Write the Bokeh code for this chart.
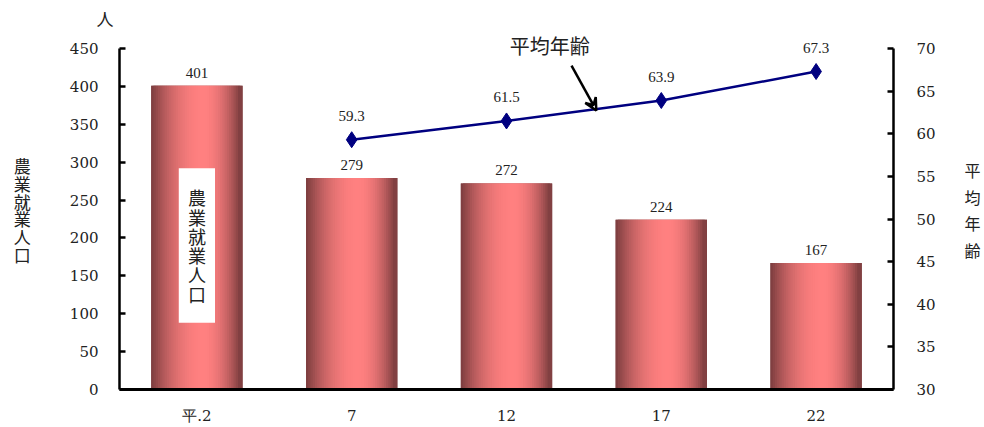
from bokeh.plotting import figure
from bokeh.models import (ColumnDataSource, LinearAxis, Range1d, FixedTicker, Label,
                          LabelSet, Arrow, VeeHead, BoxAnnotation, Title)
from bokeh.embed import file_html
from bokeh.resources import INLINE

# ---- data ----
categories = ["平.2", "7", "12", "17", "22"]
workers = [401, 279, 272, 224, 167]
ages = [None, 59.3, 61.5, 63.9, 67.3]
left_ticks = [0, 50, 100, 150, 200, 250, 300, 350, 400, 450]
right_ticks = [30, 35, 40, 45, 50, 55, 60, 65, 70]

NUM_FONT = "DejaVu Serif"
JP_FONT = "Noto Sans CJK JP"
TXT = "#222222"

W, H = 984, 427
TOP, BOTTOM, LEFT, RIGHT = 30, 38, 119, 91
frame_h = H - TOP - BOTTOM
axis_px = 341  # pixel height of the 0..450 / 30..70 span
left_end = left_ticks[-1] * frame_h / axis_px
right_end = right_ticks[0] + (right_ticks[-1] - right_ticks[0]) * frame_h / axis_px

p = figure(width=W, height=H, x_range=Range1d(-0.5, 4.5), y_range=Range1d(0, left_end),
           output_backend="svg", toolbar_location=None, title=None,
           min_border_left=LEFT, min_border_right=RIGHT, min_border_top=TOP,
           min_border_bottom=BOTTOM)
p.outline_line_color = None
p.xgrid.visible = False
p.ygrid.visible = False

p.extra_y_ranges = {"age": Range1d(right_ticks[0], right_end)}

def style_axis(ax):
    ax.axis_line_color = "black"
    ax.axis_line_width = 2.5
    ax.major_tick_line_color = "black"
    ax.major_tick_line_width = 2.5
    ax.major_tick_in = 6
    ax.major_tick_out = 0
    ax.minor_tick_line_color = None
    ax.major_label_text_font = NUM_FONT
    ax.major_label_text_font_size = "15px"
    ax.major_label_text_color = TXT
    ax.major_label_standoff = 21
    ax.axis_label_text_font = JP_FONT
    ax.axis_label_text_font_style = "normal"
    ax.axis_label_text_color = TXT
    ax.axis_label_orientation = "horizontal"

ly = p.yaxis[0]
style_axis(ly)
ly.ticker = FixedTicker(ticks=left_ticks)
ly.bounds = (left_ticks[0], left_ticks[-1])
ly.axis_label = "農\n業\n就\n業\n人\n口"
ly.axis_label_text_font_size = "17px"
ly.axis_label_text_line_height = 0.71
ly.axis_label_standoff = 36

right = LinearAxis(y_range_name="age", ticker=FixedTicker(ticks=right_ticks))
style_axis(right)
right.bounds = (right_ticks[0], right_ticks[-1])
right.major_label_standoff = 23
right.axis_label = "平\n均\n年\n齢"
right.axis_label_text_font_size = "16px"
right.axis_label_text_line_height = 1.12
right.axis_label_standoff = 26
p.add_layout(right, "right")

xa = p.xaxis[0]
style_axis(xa)
xa.axis_line_width = 3
xa.ticker = FixedTicker(ticks=list(range(len(categories))))
xa.major_label_overrides = {i: c for i, c in enumerate(categories)}
xa.major_tick_in = 0
xa.major_tick_line_color = None
xa.major_label_standoff = 17

# ---- unit label above the left axis ----
t_unit = Title(text="人", align="left", offset=-23, text_font=JP_FONT,
               text_font_size="17px", text_font_style="normal", text_color=TXT)
try:
    t_unit.standoff = 0
except AttributeError:
    pass
p.add_layout(t_unit, "above")

# ---- gradient bars ----
bw = 0.59
N = 40
dark = (122, 60, 62)
light = (255, 128, 128)
peak = 0.58

def grad(t):
    if t < peak:
        f = 1 - ((t - peak) / peak) ** 2
    else:
        f = 1 - ((t - peak) / (1 - peak)) ** 2
    f = max(0.0, min(1.0, f))
    c = [int(round(d + (l - d) * f)) for d, l in zip(dark, light)]
    return "#%02x%02x%02x" % tuple(c)

idx = list(range(len(workers)))
p.vbar(x=idx, top=workers, bottom=0, width=bw, fill_color="#%02x%02x%02x" % dark,
       line_color=None)
sw = 2 * bw / N
xs, tops, cols = [], [], []
for i, v in enumerate(workers):
    for j in range(N):
        t = j / (N - 1)
        xs.append(i - bw / 2 + sw / 2 + t * (bw - sw))
        tops.append(v)
        cols.append(grad((j + 0.5) / N))
p.vbar(x=xs, top=tops, bottom=0, width=sw, fill_color=cols, line_color=None)

bsrc = ColumnDataSource(dict(x=idx, y=workers, t=[str(v) for v in workers]))
p.add_layout(LabelSet(x="x", y="y", text="t", source=bsrc, y_offset=13,
                      text_align="center", text_baseline="middle",
                      text_font=NUM_FONT, text_font_size="15px", text_color=TXT))

# ---- average age line ----
ax_x = [i for i, a in enumerate(ages) if a is not None]
ax_y = [a for a in ages if a is not None]
asrc = ColumnDataSource(dict(x=ax_x, y=ax_y, t=["%.1f" % a for a in ax_y]))
p.line(x="x", y="y", source=asrc, y_range_name="age", line_color="#000080", line_width=2.5)
p.scatter(x="x", y="y", source=asrc, y_range_name="age", marker="diamond", size=16,
          fill_color="#000080", line_color="#000080")
p.add_layout(LabelSet(x="x", y="y", text="t", source=asrc, y_range_name="age", y_offset=24,
                      text_align="center", text_baseline="middle",
                      text_font=NUM_FONT, text_font_size="15px", text_color=TXT))

# ---- annotations ----
p.add_layout(BoxAnnotation(left=-0.117, right=0.117, bottom=88, top=292,
                           fill_color="white", fill_alpha=1.0, line_color=None))
p.add_layout(Label(x=0, y=190, text="農\n業\n就\n業\n人\n口", text_align="center",
                   text_baseline="middle", text_font=JP_FONT, text_font_size="18px",
                   text_line_height=0.74, text_color=TXT))
p.add_layout(Label(x=2.28, y=70.35, y_range_name="age", text="平均年齢",
                   text_align="center", text_baseline="middle", text_font=JP_FONT,
                   text_font_size="20px", text_color=TXT))
p.add_layout(Arrow(x_start=2.42, y_start=68.0, x_end=2.58, y_end=62.73, y_range_name="age",
                   line_color="black", line_width=2.5,
                   end=VeeHead(size=12, line_color="black", line_width=2.5, fill_color=None)))

open("out.html", "w").write(file_html(p, INLINE))
